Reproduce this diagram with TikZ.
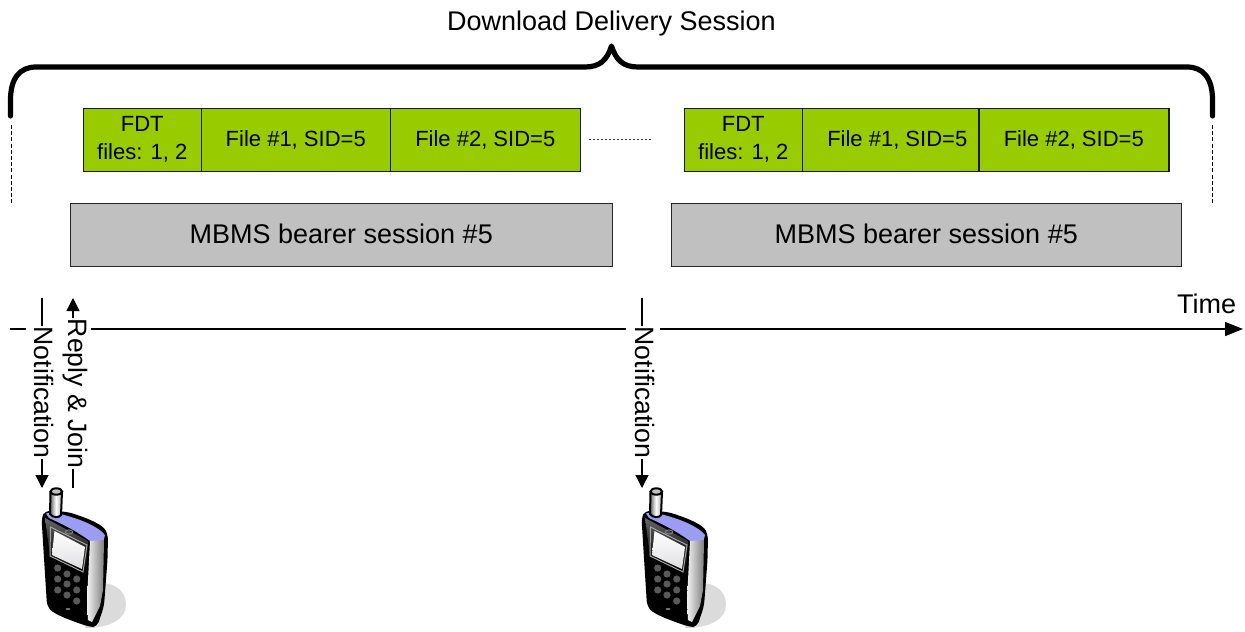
\documentclass[tikz,border=0pt]{standalone}
\usepackage{fontspec}
\setmainfont{Liberation Sans}
\usetikzlibrary{arrows.meta}
\definecolor{grn}{HTML}{99CC00}
\definecolor{gry}{HTML}{C0C0C0}
\definecolor{lilac}{HTML}{9C9CF2}
\tikzset{
  filebox/.style={draw=black!90,line width=0.75pt,fill=grn,minimum height=31.5pt,inner sep=0pt,align=center,font=\fontsize{11}{14}\selectfont,anchor=north west},
  bearerbox/.style={draw=black!85,line width=0.75pt,fill=gry,minimum height=31.5pt,inner sep=0pt,font=\fontsize{13.5}{16}\selectfont,anchor=north west},
  lbl/.style={inner sep=0pt,font=\fontsize{13.5}{16}\selectfont},
  vlbl/.style={inner sep=0pt,rotate=-90,font=\fontsize{13.3}{15}\selectfont},
  arr/.style={line width=0.7pt,-{Triangle[length=6.5pt,width=6.5pt]}},
  thin line/.style={line width=0.7pt},
  guide/.style={line width=0.5pt,dash pattern=on 2pt off 1.1pt},
  brace/.style={line width=2.6pt,line cap=round,line join=round},
  phone/.pic={
    % shadow
    \fill[black!14] (100,583) .. controls (118,583) and (126,593) .. (126,605) .. controls (126,618) and (112,628) .. (85,628) -- cycle;
    % body
    \fill[black,rounded corners=2.5pt] (41.5,518) -- (45,510.5) -- (68,512) .. controls (90,519) and (103,525) .. (108,535) -- (107.5,560) -- (104,606) -- (97,627) -- (90,627) .. controls (75,622) and (55,615) .. (47,606) -- cycle;
    % face sheen
    \shade[top color=black!60,bottom color=black,middle color=black!85] (45,518) -- (88,541) -- (86,575) -- (50,556) -- cycle;
    % purple top
    \fill[lilac] (46,513.5) -- (52,512) .. controls (75,517) and (97,525) .. (105,535) -- (103.5,541) -- (90,541) .. controls (75,530) and (60,523) .. (49,518) -- cycle;
    % silver side
    \shade[left color=black!5,middle color=white,right color=black!50] (90,541) -- (104,540) -- (103,590) -- (100,606) -- (92,622) -- (88,620) -- (87,600) -- cycle;
    % antenna
    \shade[left color=black!60,right color=black!35,middle color=white,draw=black,line width=1pt] (50.5,492) -- (50,514) .. controls (53,518) and (59,518) .. (61,515) -- (62,492) -- cycle;
    \draw[fill=black!25,line width=1pt] (56.3,491.5) ellipse (5.8 and 3.2);
    % screen
    \draw[black!35,line width=0.5pt] (50.5,527) -- (87,545) -- (83,572) -- (50,556) -- cycle;
    \shade[top color=white,bottom color=blue!10!black!12] (54.5,531) -- (85,547) -- (82,569) -- (52,555) -- cycle;
    % earpiece
    \draw[black!50,line width=0.5pt] (69,532) ellipse (3.8 and 2);
    % keys
    \foreach \kx/\ky in {57.7/568,67/574,76.7/579,57.7/579,67/584,76.7/590,57.7/590,67/595,76.7/601}
      \fill[black!65] (\kx,\ky) circle (3.6);
    \fill[black!55] (68,609) ellipse (2.5 and 1);
  }
}
\begin{document}
\begin{tikzpicture}[x=0.5pt,y=-0.5pt]
\useasboundingbox (0,0) rectangle (1245,631);
% title and brace
\node[lbl] (title) at (611.5,23.5) {Download Delivery Session};
\coordinate (bl) at (10.5,116);
\coordinate (br) at (1212.5,116);
\coordinate (tip) at (611.5,46);
\draw[brace] (bl) -- (10.5,100) .. controls (10.5,78) and (20,67) .. (36,67) -- (585,67) .. controls (600,67) and (607,60) .. (tip) .. controls (616,60) and (623,67) .. (638,67) -- (1187,67) .. controls (1203,67) and (1212.5,78) .. (1212.5,100) -- (br);
\coordinate (gl1) at (11,125); \coordinate (gl2) at (11,203);
\coordinate (gr1) at (1212,125); \coordinate (gr2) at (1212,203);
\draw[guide] (gl1) -- (gl2);
\draw[guide] (gr1) -- (gr2);
% first series
\node[filebox,minimum width=59pt] (fdta) at (82.5,107.5) {FDT\\files: 1, 2};
\node[filebox,minimum width=94.5pt] (f1a) at (200.5,107.5) {File \#1, SID=5};
\node[filebox,minimum width=95pt] (f2a) at (389.5,107.5) {File \#2, SID=5};
% second series
\node[filebox,minimum width=59pt] (fdtb) at (683.5,107.5) {FDT\\files: 1, 2};
\node[filebox,minimum width=95pt] (f1b) at (801.5,107.5) {File \#1, SID=5};
\node[filebox,minimum width=95pt] (f2b) at (978,107.5) {File \#2, SID=5};
\draw[black!80,line width=0.7pt,dash pattern=on 1.2pt off 0.8pt] ([xshift=4pt]f2a.east) -- ([xshift=-15.5pt]fdtb.west);
% bearers
\node[bearerbox,minimum width=271pt] (ba) at (69.5,202.5) {\raisebox{1pt}{MBMS bearer session \#5}};
\node[bearerbox,minimum width=255pt] (bb) at (670.5,202.5) {\raisebox{1pt}{MBMS bearer session \#5}};
% time axis
\coordinate (t0) at (10,329); \coordinate (t1) at (26,329);
\coordinate (t2) at (91,329); \coordinate (t3) at (626,329);
\coordinate (t4) at (660,329); \coordinate (t5) at (1243,329);
\draw[thin line] (t0) -- (t1);
\draw[thin line] (t2) -- (t3);
\draw[line width=0.7pt,-{Triangle[length=9pt,width=7pt]}] (t4) -- (t5);
\node[lbl] (time) at (1206.5,304) {Time};
% signalling
\node[vlbl] (na) at (44.5,392.5) {Notification};
\node[vlbl] (rj) at (75,393.5) {Reply \& Join};
\node[vlbl] (nb) at (644.5,392.5) {Notification};
\coordinate (natop) at (42,298); \coordinate (nabot) at (42,488);
\coordinate (rjtop) at (73,298); \coordinate (rjbot) at (73,488);
\coordinate (nbtop) at (642,298); \coordinate (nbbot) at (642,488);
\draw[thin line] (natop) -- (natop |- na.west);
\draw[arr] (nabot |- na.east) -- (nabot);
\draw[arr] (rjtop |- rj.west) -- (rjtop);
\draw[thin line] (rjbot |- rj.east) -- (rjbot);
\draw[thin line] (nbtop) -- (nbtop |- nb.west);
\draw[arr] (nbbot |- nb.east) -- (nbbot);
% phones
\pic at (0,0) {phone};
\pic at (600,0) {phone};
\end{tikzpicture}
\end{document}
